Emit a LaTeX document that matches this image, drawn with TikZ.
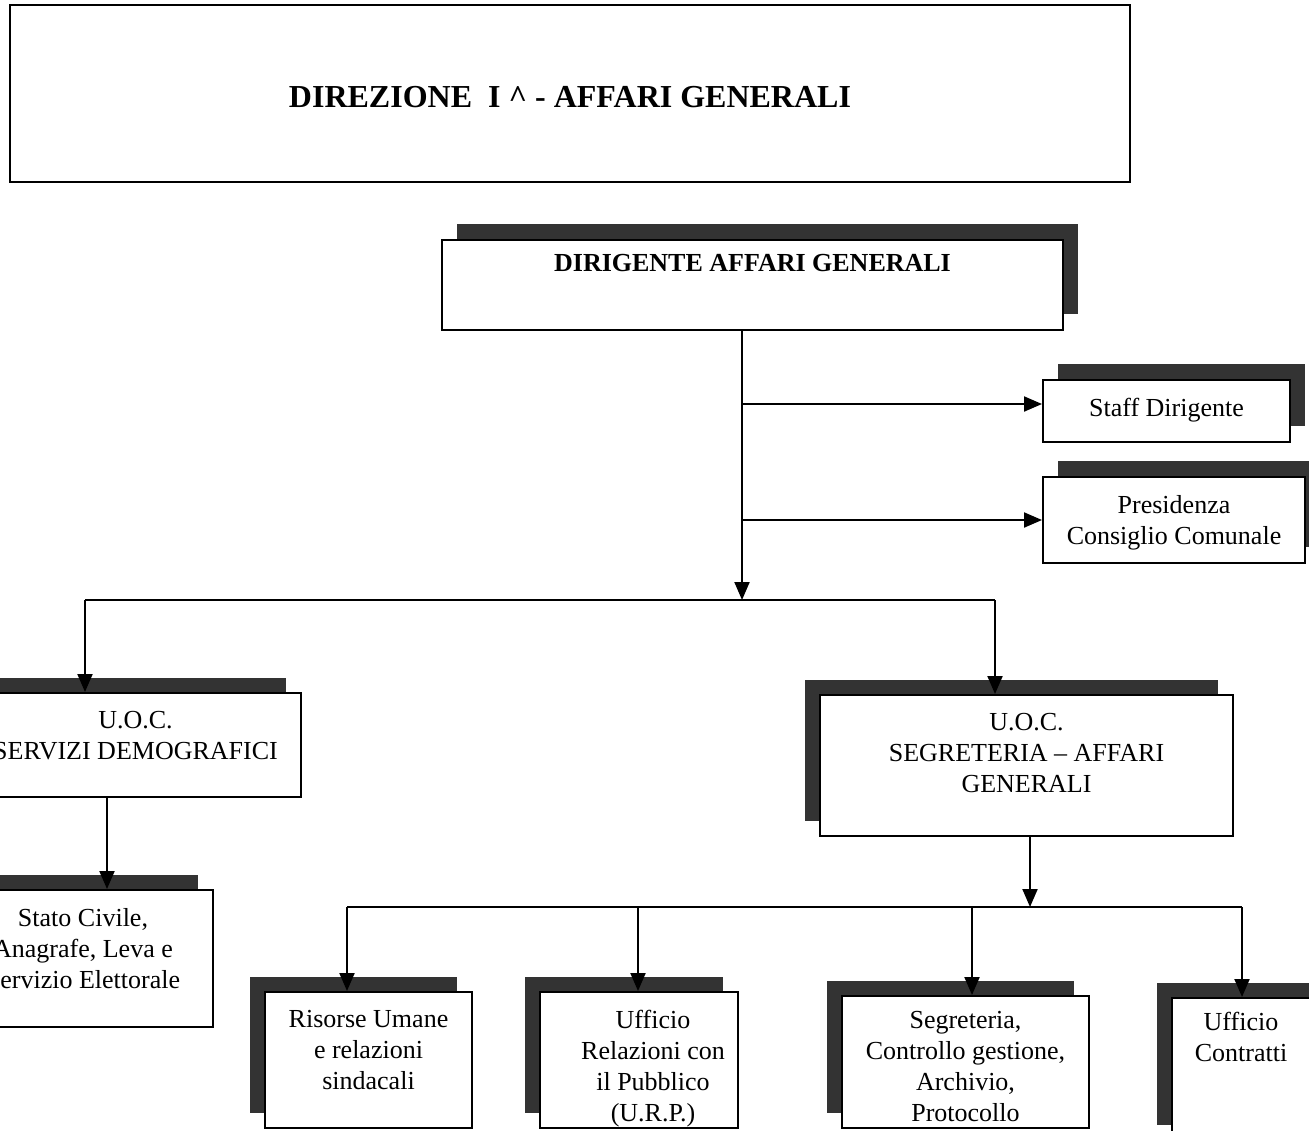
\documentclass[tikz,border=0pt]{standalone}
\usepackage{fontspec}
\setmainfont{Liberation Serif}
\usetikzlibrary{arrows.meta,shadows,fit}

\tikzset{
  unitbox/.style={draw, line width=1pt, fill=white, inner sep=0pt},
  shadeR/.style={general shadow={fill=black!80, shadow xshift=7.5pt, shadow yshift=8pt}},
  shadeL/.style={general shadow={fill=black!80, shadow xshift=-7.5pt, shadow yshift=7.5pt}},
  arr/.style={line width=1pt, -{Triangle[length=9pt,width=7.5pt]}},
  lbl/.style={anchor=north, inner sep=0pt, align=center, yshift=-9.5pt, font=\fontsize{13}{15.5}\selectfont}
}

\begin{document}
\begin{tikzpicture}[x=0.5pt, y=-0.5pt]
  \useasboundingbox (0,0) rectangle (1309,1130);
  \clip (0,0) rectangle (1309,1130);
  \node[unitbox, fit={(10,5) (1130,182)}] (ttl) {};
  \node[font=\bfseries\fontsize{16}{19}\selectfont] (ttlT) at (570,97) {DIREZIONE\ \ I \textasciicircum\ - AFFARI GENERALI};
  \node[unitbox, shadeR, fit={(442,240) (1063,330)}] (dir) {};
  \node[lbl, yshift=2pt, font=\bfseries\fontsize{13}{15.5}\selectfont] (dirT) at (dir.north) {DIRIGENTE AFFARI GENERALI};
  \node[unitbox, shadeR, fit={(1043,380) (1290,442)}] (staff) {};
  \node[lbl] (staffT) at (staff.north) {Staff Dirigente};
  \node[unitbox, shadeR, fit={(1043,477) (1305,563)}] (pres) {};
  \node[lbl] (presT) at (pres.north) {Presidenza\\Consiglio Comunale};
  % unita' operative complesse
  \node[unitbox, shadeL, fit={(-30,693) (301,797)}] (uocd) {};
  \node[lbl] (uocdT) at (uocd.north) {U.O.C.\\SERVIZI DEMOGRAFICI};
  \node[unitbox, shadeL, fit={(820,695) (1233,836)}] (uocs) {};
  \node[lbl] (uocsT) at (uocs.north) {U.O.C.\\SEGRETERIA – AFFARI\\GENERALI};
  \node[unitbox, shadeL, fit={(-47,890) (213,1027)}] (sc) {};
  \node[lbl] (scT) at (sc.north) {Stato Civile,\\Anagrafe, Leva e\\Servizio Elettorale};
  % uffici
  \node[unitbox, shadeL, fit={(265,992) (472,1128)}] (rus) {};
  \node[lbl] (rusT) at (rus.north) {Risorse Umane\\e relazioni\\sindacali};
  \node[unitbox, shadeL, fit={(540,992) (738,1128)}] (urp) {};
  \node[lbl, xshift=7pt] (urpT) at (urp.north) {Ufficio\\Relazioni con\\il Pubblico\\(U.R.P.)};
  \node[unitbox, shadeL, fit={(842,996) (1089,1128)}] (seg) {};
  \node[lbl, yshift=1.5pt] (segT) at (seg.north) {Segreteria,\\Controllo gestione,\\Archivio,\\Protocollo};
  \node[unitbox, shadeL, fit={(1172,998) (1326,1140)}] (contr) {};
  \node[lbl, yshift=2pt, xshift=-4pt] (contrT) at (contr.north) {Ufficio\\Contratti};
  % collegamenti
  \coordinate (hub) at (742,600);
  \coordinate (lft) at (85,600);
  \coordinate (rgt) at (995,600);
  \draw[arr] (dir.south -| hub) -- (hub);
  \draw[arr] ([yshift=3.5pt]staff.west -| hub) -- ([yshift=3.5pt]staff.west);
  \draw[arr] (pres.west -| hub) -- (pres.west);
  \draw[line width=1pt] (lft) -- (rgt);
  \draw[arr] (lft) -- (lft |- uocd.north);
  \draw[arr] (rgt) -- (rgt |- uocs.north);
  \coordinate (dmo) at (107,0);
  \draw[arr] (uocd.south -| dmo) -- (sc.north -| dmo);
  \coordinate (hub2) at (1030,907);
  \coordinate (l2) at (347,907);
  \coordinate (u2) at (638,907);
  \coordinate (s2) at (972,907);
  \coordinate (r2) at (1242,907);
  \draw[arr] (uocs.south -| hub2) -- (hub2);
  \draw[line width=1pt] (l2) -- (r2);
  \draw[arr] (l2) -- (l2 |- rus.north);
  \draw[arr] (u2) -- (u2 |- urp.north);
  \draw[arr] (s2) -- (s2 |- seg.north);
  \draw[arr] (r2) -- (r2 |- contr.north);
\end{tikzpicture}
\end{document}
